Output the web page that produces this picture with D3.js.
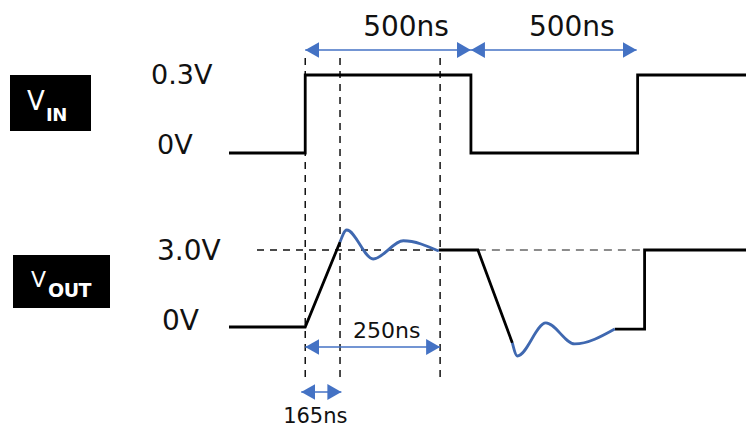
<!DOCTYPE html>
<html>
<head>
<meta charset="utf-8">
<script src="https://cdn.jsdelivr.net/npm/d3@7"></script>
<style>
  html, body { margin: 0; padding: 0; background: #fff; }
  svg text { font-family: "DejaVu Sans", sans-serif; }
</style>
</head>
<body>
<svg id="chart" width="746" height="428"></svg>
<script>
// time in ns, levels in volts
const vinWave = [[-230, 0], [0, 0], [0, 0.3], [500, 0.3], [500, 0], [1003, 0], [1003, 0.3], [1330, 0.3]];
const voutRise = [[-230, 0], [0, 0], [105, 3.31]];
const voutRing1 = [[105, 3.31], [125, 3.78], [205, 2.65], [296, 3.36], [403, 2.96]];
const voutHold = [[403, 3.0], [521, 3.0], [625, -0.62]];
const voutRing2 = [[625, -0.62], [640, -1.13], [726, 0.16], [813, -0.66], [934, -0.08]];
const voutTail = [[934, -0.08], [1024, -0.08], [1024, 3.0], [1330, 3.0]];

const vinTicks = [0, 0.3];
const vinTickLabels = ['0V', '0.3V'];
const voutTicks = [0, 3.0];
const voutTickLabels = ['0V', '3.0V'];

const markerTimes = [0, 105, 407];
const periodSpans = [[0, 500], [500, 1000]];
const periodLabels = ['500ns', '500ns'];
const settleSpan = [0, 407];
const settleLabel = '250ns';
const riseSpan = [-12, 109];
const riseLabel = '165ns';

const svg = d3.select('#chart');
const blue = '#4472c4';
const wave = '#3f68b0';

const x = d3.scaleLinear().domain([-230, 1330]).range([229, 746]);
const yIn = d3.scaleLinear().domain([0, 0.3]).range([153, 75]);
const yOut = d3.scaleLinear().domain([0, 3]).range([327, 250]);

// arrow heads
svg.append('defs').append('marker')
  .attr('id', 'head')
  .attr('markerUnits', 'userSpaceOnUse')
  .attr('markerWidth', 15).attr('markerHeight', 16)
  .attr('refX', 14).attr('refY', 8)
  .attr('orient', 'auto-start-reverse')
  .append('path')
  .attr('d', 'M0,0 L14,8 L0,16 Z')
  .attr('fill', blue);

// channel labels
const chans = [
  { box: [10, 75, 81, 56], main: 'V', sub: 'IN', mx: 27, my: 110, sx: 46, sy: 121, ms: 26, ss: 18 },
  { box: [13, 255, 97, 53], main: 'V', sub: 'OUT', mx: 31, my: 287, sx: 48, sy: 297, ms: 22, ss: 19 }
];
chans.forEach(c => {
  svg.append('rect')
    .attr('x', c.box[0]).attr('y', c.box[1])
    .attr('width', c.box[2]).attr('height', c.box[3])
    .attr('fill', '#000');
  svg.append('text').attr('x', c.mx).attr('y', c.my)
    .attr('fill', '#fff').attr('font-size', c.ms).text(c.main);
  svg.append('text').attr('x', c.sx).attr('y', c.sy)
    .attr('fill', '#fff').attr('font-size', c.ss).attr('font-weight', 'bold')
    .attr('letter-spacing', -0.5).text(c.sub);
});

// level labels
svg.selectAll('.vin-lab')
  .data(vinTicks)
  .enter().append('text')
  .attr('class', 'vin-lab')
  .attr('x', (d, i) => i ? 151 : 157)
  .attr('y', d => yIn(d) + (d ? 9 : 1))
  .attr('font-size', 27)
  .attr('fill', '#111')
  .text((d, i) => vinTickLabels[i]);

svg.selectAll('.vout-lab')
  .data(voutTicks)
  .enter().append('text')
  .attr('class', 'vout-lab')
  .attr('x', (d, i) => i ? 157 : 162)
  .attr('y', d => yOut(d) + (d ? 10 : 3))
  .attr('font-size', 28)
  .attr('fill', '#111')
  .text((d, i) => voutTickLabels[i]);

// reference dashes
svg.selectAll('.vmark')
  .data(markerTimes)
  .enter().append('line')
  .attr('class', 'vmark')
  .attr('x1', d => x(d)).attr('x2', d => x(d))
  .attr('y1', 58).attr('y2', 379)
  .attr('stroke', '#000').attr('stroke-width', 1.4)
  .attr('stroke-dasharray', '7,6');

svg.append('line')
  .attr('x1', 257).attr('x2', x(markerTimes[2]))
  .attr('y1', yOut(3)).attr('y2', yOut(3))
  .attr('stroke', '#111').attr('stroke-width', 1.4)
  .attr('stroke-dasharray', '7,6');

svg.append('line')
  .attr('x1', x(voutHold[1][0])).attr('x2', x(voutTail[1][0]))
  .attr('y1', yOut(3)).attr('y2', yOut(3))
  .attr('stroke', '#8c8c8c').attr('stroke-width', 2)
  .attr('stroke-dasharray', '8,6');

// waveforms
const lineIn = d3.line().x(d => x(d[0])).y(d => yIn(d[1]));
const lineOut = d3.line().x(d => x(d[0])).y(d => yOut(d[1]));
const smoothOut = d3.line().x(d => x(d[0])).y(d => yOut(d[1])).curve(d3.curveMonotoneX);

svg.append('path').attr('d', lineIn(vinWave))
  .attr('fill', 'none').attr('stroke', '#000').attr('stroke-width', 2.8);

[voutRise, voutHold, voutTail].forEach(seg => {
  svg.append('path').attr('d', lineOut(seg))
    .attr('fill', 'none').attr('stroke', '#000').attr('stroke-width', 2.8)
    .attr('stroke-linejoin', 'miter');
});
[voutRing1, voutRing2].forEach(seg => {
  svg.append('path').attr('d', smoothOut(seg))
    .attr('fill', 'none').attr('stroke', wave).attr('stroke-width', 2.8);
});

// span arrows
function span(s, y) {
  svg.append('line')
    .attr('x1', x(s[0])).attr('x2', x(s[1]))
    .attr('y1', y).attr('y2', y)
    .attr('stroke', blue).attr('stroke-width', 1.6)
    .attr('marker-start', 'url(#head)')
    .attr('marker-end', 'url(#head)');
}

periodSpans.forEach((s, i) => {
  span(s, 50);
  svg.append('text')
    .attr('x', x((s[0] + s[1]) / 2) + 18).attr('y', 36)
    .attr('text-anchor', 'middle').attr('font-size', 28).attr('fill', '#111')
    .text(periodLabels[i]);
});

span(settleSpan, 347);
svg.append('text')
  .attr('x', x((settleSpan[0] + settleSpan[1]) / 2) + 14).attr('y', 338)
  .attr('text-anchor', 'middle').attr('font-size', 22).attr('fill', '#111')
  .text(settleLabel);

span(riseSpan, 392);
svg.append('text')
  .attr('x', x((riseSpan[0] + riseSpan[1]) / 2) - 6).attr('y', 423)
  .attr('text-anchor', 'middle').attr('font-size', 21).attr('fill', '#111')
  .text(riseLabel);
</script>
</body>
</html>
